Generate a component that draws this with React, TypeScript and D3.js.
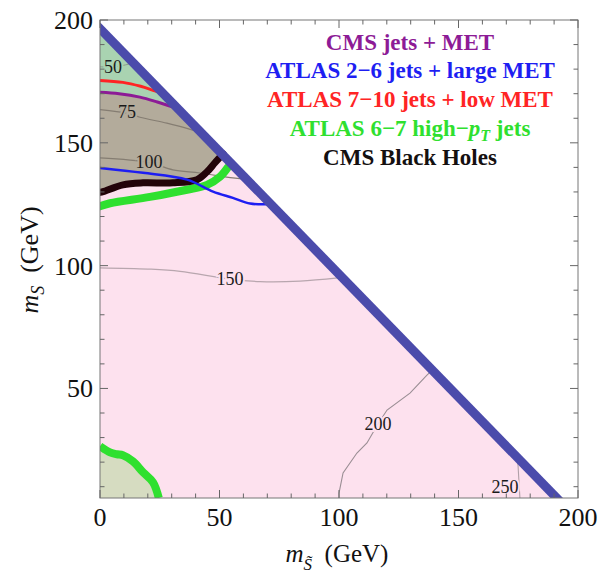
import React from 'react';
import * as d3 from 'd3';

const W = 603;
const H = 578;
const X_DOMAIN: [number, number] = [0, 200];
const Y_DOMAIN: [number, number] = [5.4, 200];
const xTicksMajor = [0, 50, 100, 150, 200];
const yTicksMajor = [50, 100, 150, 200];
const minorTicks = d3.range(0, 201, 10);
const diagonalSum = 196.5;

type P = [number, number];

const cmsJetsMet: P[] = [[0, 170.6], [8, 170], [16.7, 168.6], [24, 166.6], [31, 164.4]];
const atlasLowMet: P[] = [[0, 175.4], [9.6, 174.6], [17, 173], [22.2, 171.4], [26, 170.2]];
const atlasLargeMet: P[] = [[0, 139.8], [18, 137.8], [36.4, 135], [47.3, 130.1], [55.6, 127.6], [62.8, 125.3], [71, 125]];
const cmsBlackHoles: P[] = [[0, 129.8], [1.3, 130.1], [9.6, 132.9], [18, 133.7], [30.5, 133.7], [40.6, 135], [44.8, 138.2], [48.1, 141.9], [51.5, 145.5]];
const atlasHighPtUpper: P[] = [[0, 124.2], [4.2, 125.4], [20.9, 128], [36.4, 130.9], [44.8, 132.9], [50.2, 136.2], [53.5, 140]];
const atlasHighPtLower: P[] = [[0, 26.5], [4.2, 24], [7.1, 23.2], [9.6, 22.8], [13.8, 20.3], [18, 15.9], [22.2, 11.8], [24.6, 5.4]];

const contour50: P[] = [[0, 181], [5.4, 180.8], [14, 182.5]];
const contour75: P[] = [[0, 163.5], [11.3, 162], [16.7, 160.4], [28, 158], [36.4, 155.9], [41, 154.5]];
const contour100: P[] = [[0, 143.9], [20.5, 142], [30.5, 139], [41.8, 137.7], [55.6, 135.7], [62, 135]];
const contour150: P[] = [[0, 99.1], [20, 98.6], [33.5, 97.7], [54.4, 94.5], [67, 93.5], [83.7, 93.7], [99.5, 95]];
const contour200: P[] = [[139, 57.5], [136.8, 55.4], [129.7, 48.1], [120.1, 41.2], [116.3, 35.5], [111.7, 27.8], [107.5, 23.7], [101.7, 15.6], [100, 7.4], [100, 5.4]];
const contour250: P[] = [[174.5, 21.5], [174.9, 18.8], [175.3, 12], [175.7, 5.4]];

const contourLabels: { text: string; at: P; bg: string }[] = [
  { text: '50', at: [5.4, 180.8], bg: '#a9d3b1' },
  { text: '75', at: [11.3, 162.6], bg: '#b3ab9b' },
  { text: '100', at: [20.5, 142.2], bg: '#b3ab9b' },
  { text: '150', at: [54.4, 94.6], bg: '#fde1ee' },
  { text: '200', at: [116.3, 35.5], bg: '#fde1ee' },
  { text: '250', at: [169.5, 9.9], bg: '#fde1ee' },
];

const legendItems = [
  { text: 'CMS jets + MET', color: '#8d1b96' },
  { text: 'ATLAS 2\u22126 jets + large MET', color: '#1e1ef2' },
  { text: 'ATLAS 7\u221210 jets + low MET', color: '#ff2424' },
  { text: 'HIGHPT', color: '#2fe02f' },
  { text: 'CMS Black Holes', color: '#141010' },
];

const x = d3.scaleLinear().domain(X_DOMAIN).range([100, 578]);
const y = d3.scaleLinear().domain(Y_DOMAIN).range([498, 20]);

const line = d3.line<P>().x(d => x(d[0])).y(d => y(d[1]));
const smooth = d3.line<P>().x(d => x(d[0])).y(d => y(d[1])).curve(d3.curveCatmullRom.alpha(0.5));

const serif = '"Liberation Serif", Tinos, "Times New Roman", Times, "DejaVu Serif", serif';

export default function App() {
  const diagEnd = diagonalSum - Y_DOMAIN[0];
  const pink: P[] = [[0, Y_DOMAIN[0]], [0, diagonalSum], [diagEnd, Y_DOMAIN[0]]];
  const pEnd = cmsJetsMet[cmsJetsMet.length - 1];
  const mint: P[] = [...cmsJetsMet, [pEnd[0], diagonalSum - pEnd[0] + 1], [0, diagonalSum + 1]];
  const bEnd = cmsBlackHoles[cmsBlackHoles.length - 1];
  const gray: P[] = [
    ...cmsJetsMet,
    [pEnd[0], diagonalSum - pEnd[0]],
    [bEnd[0] + 1, diagonalSum - bEnd[0] - 1],
    ...[...cmsBlackHoles].reverse(),
  ];
  const lowerFill: P[] = [[0, Y_DOMAIN[0]], ...atlasHighPtLower];
  const diagLine: P[] = [[-5, diagonalSum + 5], [diagEnd + 6, Y_DOMAIN[0] - 6]];

  const x0 = x(0), x1 = x(200), y0 = y(Y_DOMAIN[0]), y1 = y(200);
  const legendX = 410;
  const legendY0 = 49.5;
  const legendDy = 28.9;

  return (
    <svg width={W} height={H} style={{ display: 'block', position: 'absolute', left: 0, top: 0, fontFamily: serif }}>
      <defs>
        <clipPath id="plot">
          <rect x={x0} y={y1} width={x1 - x0} height={y0 - y1} />
        </clipPath>
      </defs>
      <rect width={W} height={H} fill="#fff" />
      <g clipPath="url(#plot)">
        <path d={line(pink)! + 'Z'} fill="#fde1ee" />
        <path d={smooth(mint)! + 'Z'} fill="#a9d3b1" />
        <path d={line(gray)! + 'Z'} fill="#b3ab9b" />
        <path d={smooth(lowerFill)! + 'Z'} fill="#d6dcc1" />

        <path d={smooth(contour50)!} fill="none" stroke="#8a9a8a" strokeWidth={1} />
        <path d={smooth(contour75)!} fill="none" stroke="#857d72" strokeWidth={1.2} />
        <path d={smooth(contour100)!} fill="none" stroke="#857d72" strokeWidth={1.2} />
        <path d={smooth(contour150)!} fill="none" stroke="#b8a6ae" strokeWidth={1.3} />
        <path d={line(contour200)!} fill="none" stroke="#9a8e94" strokeWidth={1.1} />
        <path d={line(contour250)!} fill="none" stroke="#b0a0a8" strokeWidth={1.1} />

        {contourLabels.map(l => (
          <text key={l.text} x={x(l.at[0])} y={y(l.at[1])} dy={6} textAnchor="middle"
            style={{ fontFamily: serif }} fontSize={18} fill="#1a1a1a"
            stroke={l.bg} strokeWidth={4} paintOrder="stroke">{l.text}</text>
        ))}

        <path d={smooth(atlasLowMet)!} fill="none" stroke="#ff2424" strokeWidth={3} />
        <path d={smooth(cmsJetsMet)!} fill="none" stroke="#8d1b96" strokeWidth={3} />
        <path d={smooth(atlasHighPtUpper)!} fill="none" stroke="#2fe02f" strokeWidth={8} strokeLinecap="round" />
        <path d={smooth(atlasHighPtLower)!} fill="none" stroke="#2fe02f" strokeWidth={8} />
        <path d={smooth(cmsBlackHoles)!} fill="none" stroke="#230309" strokeWidth={7} strokeLinecap="round" />
        <path d={smooth(atlasLargeMet)!} fill="none" stroke="#1e1ef2" strokeWidth={2.5} />

        <path d={line(diagLine)!} fill="none" stroke="#4b4bab" strokeWidth={9} />
      </g>

      <rect x={x0} y={y1} width={x1 - x0} height={y0 - y1} fill="none" stroke="#777" strokeWidth={1} />
      {minorTicks.map(t => {
        const major = t % 50 === 0;
        const len = major ? 8 : 4.5;
        const px = x(t);
        const els = [
          <line key={'b' + t} x1={px} x2={px} y1={y0} y2={y0 - len} stroke="#666" strokeWidth={1} />,
          <line key={'t' + t} x1={px} x2={px} y1={y1} y2={y1 + len} stroke="#666" strokeWidth={1} />,
        ];
        if (t >= Y_DOMAIN[0]) {
          const py = y(t);
          els.push(<line key={'l' + t} x1={x0} x2={x0 + len} y1={py} y2={py} stroke="#666" strokeWidth={1} />);
          els.push(<line key={'r' + t} x1={x1} x2={x1 - len} y1={py} y2={py} stroke="#666" strokeWidth={1} />);
        }
        return <g key={t}>{els}</g>;
      })}

      {xTicksMajor.map(t => (
        <text key={'xl' + t} x={x(t)} y={526} textAnchor="middle" style={{ fontFamily: serif }} fontSize={26} fill="#111">{t}</text>
      ))}
      {yTicksMajor.map(t => (
        <text key={'yl' + t} x={93} y={y(t) + 9} textAnchor="end" style={{ fontFamily: serif }} fontSize={26} fill="#111">{t}</text>
      ))}

      <text x={337} y={562} textAnchor="middle" style={{ fontFamily: serif }} fontSize={25} fill="#111">
        <tspan fontStyle="italic">m</tspan>
        <tspan fontStyle="italic" fontSize={17} dy={8}>{'S\u0303'}</tspan>
        <tspan dy={-8}>{'\u2002(GeV)'}</tspan>
      </text>

      <text transform={`translate(38,260) rotate(-90)`} textAnchor="middle" style={{ fontFamily: serif }} fontSize={26} fill="#111">
        <tspan fontStyle="italic">m</tspan>
        <tspan fontStyle="italic" fontSize={18} dy={6}>S</tspan>
        <tspan dy={-6}>{'\u2002(GeV)'}</tspan>
      </text>

      {legendItems.map((it, i) => (
        <text key={i} x={legendX} y={legendY0 + i * legendDy} textAnchor="middle" style={{ fontFamily: serif }}
          fontWeight="bold" fontSize={23} fill={it.color}>
          {it.text === 'HIGHPT' ? (
            <>
              <tspan>{'ATLAS 6\u22127 high\u2212'}</tspan>
              <tspan fontStyle="italic">p</tspan>
              <tspan fontStyle="italic" fontSize={16} dy={5}>T</tspan>
              <tspan dy={-5}>{' jets'}</tspan>
            </>
          ) : it.text}
        </text>
      ))}
    </svg>
  );
}
